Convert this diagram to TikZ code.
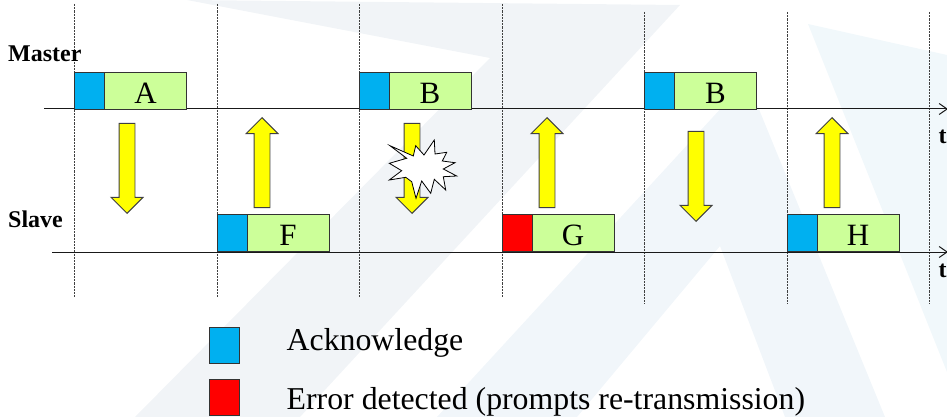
\documentclass[tikz,border=0pt]{standalone}
\usepackage{fontspec}
\setmainfont{Liberation Serif}
\usepackage{xcolor}
\usetikzlibrary{shapes.arrows,arrows.meta}

\definecolor{ackblue}{HTML}{00B0F0}
\definecolor{framegreen}{HTML}{CCFF99}
\definecolor{arrowyellow}{HTML}{FFFF00}
\definecolor{wmgrey}{HTML}{F1F4F7}
\definecolor{wmblue}{HTML}{F1F6FA}
\definecolor{wmpale}{HTML}{F1F8FB}

\begin{document}
\begin{tikzpicture}[x=1pt,y=-1pt,
	ack/.style={draw=black!80,line width=0.9pt,fill=ackblue,minimum width=30pt,minimum height=37pt,inner sep=0pt},
	err/.style={ack,fill=red},
	frm/.style={draw=black!80,line width=0.9pt,fill=framegreen,minimum width=82pt,inner sep=0pt,text height=31pt,text depth=6pt,font=\fontsize{31}{31}\selectfont},
	down/.style={single arrow,draw=black!75,line width=0.9pt,fill=arrowyellow,shape border rotate=270,inner sep=7.5pt,minimum height=90pt,single arrow head extend=8pt,anchor=tip},
	up/.style={down,shape border rotate=90},
	who/.style={inner sep=0pt,font=\fontsize{24}{24}\selectfont\bfseries},
	key/.style={inner sep=0pt,font=\fontsize{31.8}{32}\selectfont},
	slot/.style={dashed,dash pattern=on 2.2pt off 1pt,line width=0.8pt,black!75},
	axis/.style={-{Straight Barb[length=8pt,width=11pt]},line width=1pt,black!90}]

	\useasboundingbox (0,0) rectangle (947,417);

	% Watermark
	\fill[wmgrey] (187,0) -- (680,5) -- (300,417) -- (135,417) -- (490,58) -- cycle;
	\fill[wmblue] (747,80) -- (885,417) -- (785,417) -- (720,246) -- (577,417) -- (437,417) -- cycle;
	\fill[wmpale] (808,24) -- (947,55) -- (947,372) -- cycle;

	% Slot boundaries
	\coordinate (s1t) at (74,4);    \coordinate (s1b) at (74,297);
	\coordinate (s2t) at (217,4);   \coordinate (s2b) at (217,297);
	\coordinate (s3t) at (359,4);   \coordinate (s3b) at (359,297);
	\coordinate (s4t) at (502,4);   \coordinate (s4b) at (502,297);
	\coordinate (s5t) at (644,12);  \coordinate (s5b) at (644,304);
	\coordinate (s6t) at (787,12);  \coordinate (s6b) at (787,304);
	\coordinate (s7t) at (929,12);  \coordinate (s7b) at (929,304);

	\path[slot]
	(s1t) edge (s1b)
	(s2t) edge (s2b)
	(s3t) edge (s3b)
	(s4t) edge (s4b)
	(s5t) edge (s5b)
	(s6t) edge (s6b)
	(s7t) edge (s7b);

	% Time axes
	\coordinate (ms) at (44,109);   \coordinate (me) at (948,109);
	\coordinate (ss) at (52,252);   \coordinate (se) at (948,252);

	\path[axis]
	(ms) edge (me)
	(ss) edge (se);

	\node [who,anchor=base west] at (8,62) (master) {Master};
	\node [who,anchor=base west] at (8,227) (slave) {Slave};
	\node [who,anchor=base west] at (938.5,143) (tm) {t};
	\node [who,anchor=base west] at (938.5,277) (ts) {t};

	% Master frames
	\node [ack] at (89,90.5) (ackA) {};
	\node [frm] at (145.5,90.5) (A) {A};
	\node [ack] at (374,90.5) (ackB) {};
	\node [frm] at (430,90.5) (B) {B};
	\node [ack] at (659,90.5) (ackBB) {};
	\node [frm] at (715.5,90.5) (BB) {B};

	% Slave frames
	\node [ack] at (232,233) (ackF) {};
	\node [frm] at (288,233) (F) {F};
	\node [err] at (517,233) (errG) {};
	\node [frm] at (573,233) (G) {G};
	\node [ack] at (802,233) (ackH) {};
	\node [frm] at (858,233) (H) {H};

	% Block arrows
	\node [down] at (127,214) (aA) {};
	\node [up] at (262,117) (aF) {};
	\node [down] at (412,214) (aB) {};
	\node [up] at (547,117) (aG) {};
	\node [down] at (696,222) (aBB) {};
	\node [up] at (832,117) (aH) {};

	% Lost frame
	\draw[black,line width=0.8pt,fill=white]
	(390,145.7) -- (413.3,156) -- (415.7,145.7) -- (424,155) -- (434.3,140) -- (435,154)
	-- (446.7,152.3) -- (442.3,161) -- (455,162.7) -- (443.3,169) -- (456.7,176) -- (443.3,176.7)
	-- (445.7,190) -- (434.3,179.3) -- (430.7,193.3) -- (421.7,181) -- (416,198.3) -- (411.7,181.7)
	-- (405.7,177.3) -- (389.3,180) -- (401.7,170.7) -- (389.3,163.3) -- (406.7,158.3) -- cycle;

	% Legend
	\node [ack,minimum height=36pt] at (224,345) (keyack) {};
	\node [err,minimum height=36pt] at (224,397) (keyerr) {};
	\node [key,anchor=base west] at (286.5,350) (txtack) {Acknowledge};
	\node [key,anchor=base west] at (286.5,409) (txterr) {Error detected (prompts re-transmission)};

\end{tikzpicture}
\end{document}
